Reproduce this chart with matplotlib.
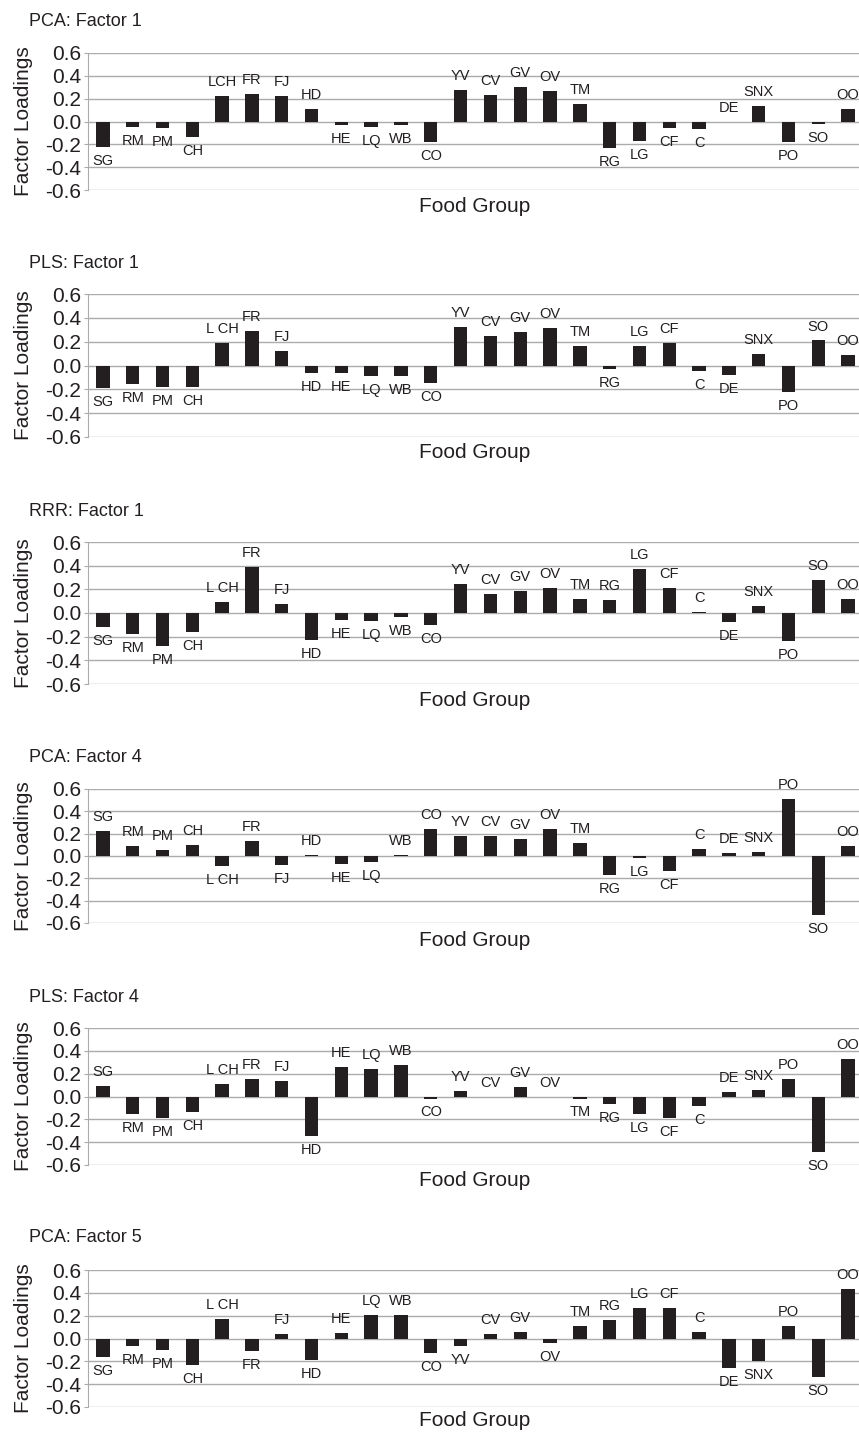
import matplotlib
matplotlib.use("Agg")
import matplotlib.pyplot as plt
import numpy as np

plt.rcParams['font.family'] = ['Liberation Sans', 'DejaVu Sans']

# food group codes (first panel writes "LCH" without the space)
food_groups = ['SG', 'RM', 'PM', 'CH', 'L CH', 'FR', 'FJ', 'HD', 'HE', 'LQ', 'WB', 'CO',
               'YV', 'CV', 'GV', 'OV', 'TM', 'RG', 'LG', 'CF', 'C', 'DE', 'SNX', 'PO', 'SO', 'OO']
food_groups_p1 = ['LCH' if g == 'L CH' else g for g in food_groups]

titles = ['PCA: Factor 1', 'PLS: Factor 1', 'RRR: Factor 1',
          'PCA: Factor 4', 'PLS: Factor 4', 'PCA: Factor 5']

pca_f1 = [-0.22, -0.05, -0.06, -0.14, 0.22, 0.245, 0.225, 0.11, -0.03, -0.05, -0.03, -0.18,
          0.28, 0.23, 0.30, 0.27, 0.155, -0.235, -0.17, -0.06, -0.07, 0.0, 0.14, -0.18, -0.02, 0.11]
pls_f1 = [-0.19, -0.155, -0.18, -0.18, 0.19, 0.29, 0.12, -0.065, -0.065, -0.09, -0.09, -0.15,
          0.325, 0.25, 0.28, 0.315, 0.16, -0.03, 0.16, 0.19, -0.045, -0.08, 0.10, -0.22, 0.21, 0.09]
rrr_f1 = [-0.12, -0.18, -0.28, -0.16, 0.09, 0.39, 0.08, -0.23, -0.06, -0.07, -0.035, -0.10,
          0.245, 0.16, 0.19, 0.21, 0.12, 0.11, 0.37, 0.21, 0.01, -0.08, 0.06, -0.24, 0.28, 0.12]
pca_f4 = [0.22, 0.086, 0.053, 0.10, -0.09, 0.137, -0.08, 0.012, -0.07, -0.05, 0.012, 0.245,
          0.18, 0.18, 0.15, 0.24, 0.116, -0.17, -0.018, -0.134, 0.062, 0.024, 0.033, 0.51, -0.53, 0.086]
pls_f4 = [0.09, -0.15, -0.185, -0.14, 0.11, 0.152, 0.135, -0.35, 0.257, 0.237, 0.278, -0.018,
          0.05, 0.0, 0.082, 0.0, -0.018, -0.067, -0.15, -0.19, -0.08, 0.04, 0.06, 0.152, -0.49, 0.327]
pca_f5 = [-0.16, -0.07, -0.10, -0.235, 0.17, -0.11, 0.04, -0.19, 0.047, 0.21, 0.21, -0.13,
          -0.07, 0.04, 0.06, -0.04, 0.11, 0.16, 0.27, 0.27, 0.06, -0.255, -0.20, 0.11, -0.335, 0.435]

panels = [pca_f1, pls_f1, rrr_f1, pca_f4, pls_f4, pca_f5]
yticks = [-0.6, -0.4, -0.2, 0.0, 0.2, 0.4, 0.6]

W, H = 859, 1432
fig = plt.figure(figsize=(W / 100, H / 100), dpi=100)

# pixel layout of each panel: axes top, axes bottom, title y, xlabel y
layout = [(53, 190, 22, 206), (294, 437, 263, 453), (542, 684, 511, 700),
          (789, 923, 757, 940), (1028, 1165, 997, 1180), (1270, 1407, 1238, 1420)]
left_px, right_px = 88, 863
text_col = '#231f20'
grid_col = '#ababab'

for k, (vals, title) in enumerate(zip(panels, titles)):
    top, bot, ty, xy = layout[k]
    ax = fig.add_axes([left_px / W, 1 - bot / H, (right_px - left_px) / W, (bot - top) / H])
    x = np.arange(len(food_groups))
    ax.bar(x, vals, width=0.45, color='#231f20', zorder=3)
    ax.set_xlim(-0.5, len(food_groups) - 0.5)
    ax.set_ylim(-0.6, 0.6)
    ax.set_yticks(yticks)
    ax.set_yticklabels([f'{t:.1f}' for t in yticks], fontsize=15, color=text_col)
    ax.set_xticks([])
    for t in yticks:
        ax.axhline(t, color=grid_col, lw=1.0, zorder=1)
    for s in ['top', 'right', 'bottom']:
        ax.spines[s].set_visible(False)
    ax.spines['left'].set_color(grid_col)
    ax.tick_params(axis='y', length=3, color=grid_col, pad=2)
    ax.set_ylabel('Factor Loadings', fontsize=15, color=text_col, labelpad=9)

    labels = food_groups_p1 if k == 0 else food_groups
    for xi, v, lab in zip(x, vals, labels):
        if v >= 0:
            ax.annotate(lab, (xi, v), xytext=(0, 5), textcoords='offset points',
                        ha='center', va='bottom', fontsize=10.5, color=text_col,
                        annotation_clip=False)
        else:
            ax.annotate(lab, (xi, v), xytext=(0, -5), textcoords='offset points',
                        ha='center', va='top', fontsize=10.5, color=text_col,
                        annotation_clip=False)

    fig.text(29 / W, 1 - ty / H, title, fontsize=13, color=text_col, ha='left', va='center')
    fig.text(475 / W, 1 - xy / H, 'Food Group', fontsize=15, color=text_col,
             ha='center', va='center')

fig.savefig('out.png', dpi=100)
